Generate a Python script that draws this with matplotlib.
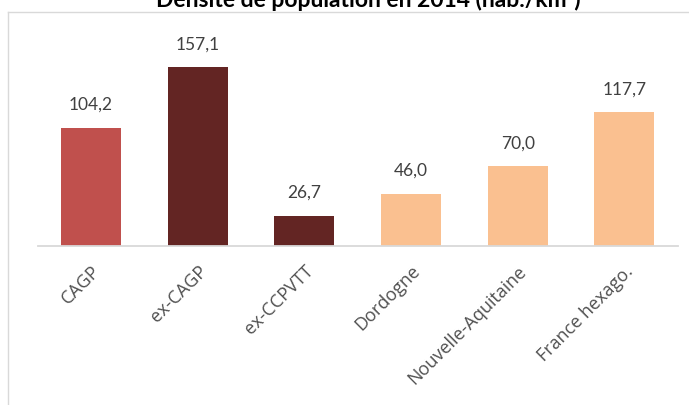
import matplotlib
matplotlib.use("Agg")
import matplotlib.pyplot as plt
from matplotlib.lines import Line2D

categories = ["CAGP", "ex-CAGP", "ex-CCPVTT", "Dordogne", "Nouvelle-Aquitaine", "France hexago."]
values = [104.2, 157.1, 26.7, 46.0, 70.0, 117.7]
colors = ["#C0504D", "#632523", "#632523", "#FAC090", "#FAC090", "#FAC090"]
title = "Densité de population en 2014 (hab./km²)"

plt.rcParams['font.family'] = ['Lato', 'DejaVu Sans']

W, H = 689, 406
fig = plt.figure(figsize=(W/100, H/100), dpi=100)
ax = fig.add_axes([37.7/W, (H-247)/H, 640/W, (247-40)/H])

x = list(range(len(categories)))
ax.bar(x, values, width=0.5625, color=colors)
ax.set_xlim(-0.5, len(categories)-0.5)
ax.set_ylim(0, (247-40)/1.137)

for xi, v in zip(x, values):
    ax.annotate(f"{v:.1f}".replace(".", ","), (xi, v), xytext=(0, 13.5),
                textcoords="offset points", ha="center", va="baseline",
                fontsize=12.5, color="#404040")

for s in ["top", "right", "left"]:
    ax.spines[s].set_visible(False)
ax.spines["bottom"].set_color("#D9D9D9")
ax.spines["bottom"].set_linewidth(1.3)
ax.set_yticks([])
ax.set_xticks(x)
ax.set_xticklabels(categories, rotation=45, ha="right", va="top",
                   rotation_mode="anchor", fontsize=13, color="#505050",
                   family=["Open Sans", "DejaVu Sans"])
ax.tick_params(axis="x", length=0, pad=11)

# frame lines
fig.add_artist(Line2D([8/W, 1], [1-13/H, 1-13/H], color="#D9D9D9", lw=1.0, transform=fig.transFigure))
fig.add_artist(Line2D([8/W, 8/W], [0, 1-13/H], color="#D9D9D9", lw=1.0, transform=fig.transFigure))

fig.text(368/W, 1-7/H, title, ha="center", va="baseline", fontsize=16.5,
         fontweight="bold", color="#000000")

fig.savefig("out.png", dpi=100)
